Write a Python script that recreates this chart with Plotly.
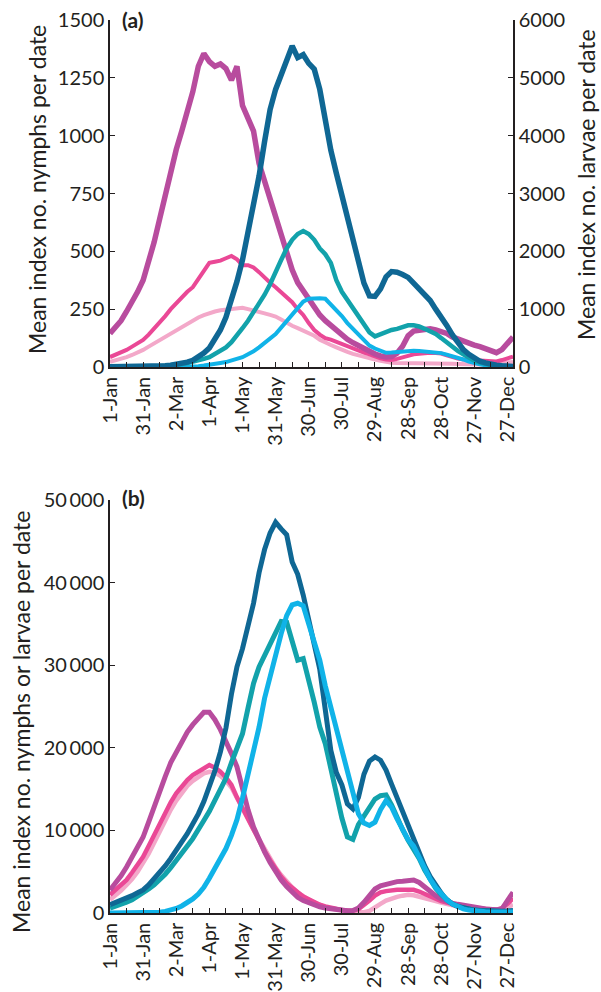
import plotly.graph_objects as go

# Day of year (0 = 1 Jan), sampled every 5 days
days = list(range(0, 366, 5))

tick_days = [0, 30, 60, 90, 120, 150, 180, 210, 240, 270, 300, 330, 360]
tick_labels = ["1-Jan", "31-Jan", "2-Mar", "1-Apr", "1-May", "31-May", "30-Jun",
               "30-Jul", "29-Aug", "28-Sep", "28-Oct", "27-Nov", "27-Dec"]
minor_days = [15, 45, 75, 105, 135, 165, 195, 225, 255, 285, 315, 345]

# ---- Panel (a): nymphs (left axis) ----
nymph_a_magenta = [
    145, 170, 200, 240, 280, 325, 375, 450, 540, 640,
    740, 850, 940, 1020, 1100, 1190, 1300, 1355, 1320, 1300,
    1310, 1290, 1240, 1300, 1130, 1070, 1020, 880, 800, 720,
    650, 580, 480, 420, 365, 330, 290, 260, 225, 200,
    180, 155, 135, 120, 105, 92, 80, 68, 56, 48,
    43, 45, 60, 90, 135, 155, 160, 160, 165, 160,
    155, 145, 130, 120, 112, 105, 95, 88, 80, 70,
    62, 75, 100, 130]
nymph_a_pink = [
    43, 52, 62, 74, 88, 102, 117, 140, 165, 191,
    220, 250, 277, 300, 325, 345, 380, 420, 450, 455,
    460, 470, 480, 465, 440, 440, 430, 410, 385, 364,
    345, 325, 305, 280, 250, 225, 190, 160, 140, 125,
    118, 108, 100, 90, 80, 70, 62, 55, 45, 38,
    32, 30, 35, 40, 48, 55, 58, 60, 62, 60,
    58, 50, 42, 36, 32, 30, 28, 26, 25, 24,
    24, 30, 38, 45]
nymph_a_light = [
    22, 28, 35, 43, 52, 62, 74, 88, 102, 117,
    132, 146, 160, 175, 190, 204, 214, 224, 234, 240,
    245, 248, 252, 256, 256, 250, 245, 238, 232, 225,
    218, 205, 190, 178, 168, 158, 148, 135, 118, 105,
    95, 85, 74, 65, 57, 50, 44, 38, 32, 27,
    22, 18, 17, 17, 17, 17, 18, 18, 18, 17,
    16, 15, 14, 13, 12, 12, 11, 10, 10, 10,
    12, 15, 18, 22]

# ---- Panel (a): larvae (right axis) ----
larva_a_dark = [
    5, 5, 5, 5, 5, 8, 8, 10, 12, 15,
    20, 30, 45, 60, 85, 115, 170, 240, 330, 470,
    640, 860, 1150, 1480, 1850, 2300, 2800, 3300, 3900, 4450,
    4800, 5050, 5250, 5550, 5350, 5400, 5250, 5150, 4800, 4250,
    3750, 3350, 2950, 2550, 2150, 1800, 1450, 1230, 1220, 1350,
    1560, 1650, 1640, 1600, 1550, 1450, 1350, 1280, 1150, 1000,
    870, 720, 560, 420, 300, 220, 150, 100, 70, 45,
    30, 20, 12, 8]
larva_a_teal = [
    0, 0, 0, 0, 2, 3, 5, 7, 10, 15,
    20, 25, 35, 50, 70, 90, 110, 140, 170, 220,
    280, 340, 430, 540, 670, 800, 940, 1080, 1250, 1430,
    1620, 1850, 2050, 2200, 2300, 2350, 2300, 2200, 2050, 1950,
    1800, 1500, 1300, 1160, 1000, 860, 720, 600, 530, 570,
    610, 640, 660, 690, 720, 720, 700, 660, 620, 570,
    500, 420, 350, 280, 220, 160, 110, 75, 50, 35,
    25, 20, 15, 12]
larva_a_light = [
    0, 0, 0, 0, 0, 0, 0, 0, 0, 0,
    0, 0, 2, 3, 5, 10, 15, 25, 35, 50,
    70, 85, 110, 140, 170, 220, 270, 340, 410, 490,
    570, 680, 790, 900, 1020, 1130, 1180, 1190, 1190, 1180,
    1080, 990, 880, 760, 660, 560, 450, 370, 320, 280,
    245, 250, 260, 270, 280, 280, 275, 270, 265, 255,
    240, 215, 190, 160, 130, 95, 65, 45, 30, 20,
    15, 10, 8, 6]

# ---- Panel (b): nymphs and larvae on one axis ----
b_magenta = [
    2780, 3600, 4500, 5570, 6700, 7900, 9200, 11000, 12900, 14900,
    16500, 18200, 19500, 20800, 21900, 22800, 23600, 24300, 24300, 23400,
    22200, 20900, 19300, 17700, 14800, 12500, 10400, 8800, 7400, 6100,
    5000, 4000, 3200, 2500, 1900, 1500, 1200, 950, 750, 600,
    500, 400, 320, 260, 300, 600, 1300, 2200, 2900, 3300,
    3500, 3700, 3800, 3850, 3950, 4000, 3700, 3100, 2600, 2100,
    1700, 1400, 1200, 1050, 900, 800, 700, 600, 500, 430,
    380, 500, 1400, 2500]
b_pink = [
    2200, 2750, 3300, 4000, 4900, 5800, 6800, 8100, 9500, 10900,
    12200, 13400, 14500, 15400, 16100, 16700, 17100, 17500, 17900, 17600,
    17100, 16400, 15500, 14000, 12700, 11200, 9900, 8700, 7500, 6400,
    5300, 4400, 3600, 3000, 2500, 2000, 1650, 1300, 1000, 800,
    620, 480, 380, 300, 280, 450, 900, 1500, 2100, 2500,
    2650, 2750, 2800, 2800, 2850, 2800, 2600, 2300, 2000, 1700,
    1450, 1250, 1050, 900, 780, 680, 600, 520, 460, 420,
    400, 600, 1100, 1800]
b_light_pink = [
    1600, 2100, 2700, 3400, 4100, 5000, 6000, 7200, 8500, 9900,
    11200, 12500, 13600, 14600, 15400, 16000, 16500, 16900, 17100, 17000,
    16600, 16000, 15200, 14000, 12800, 11400, 10100, 8900, 7700, 6600,
    5500, 4600, 3800, 3100, 2500, 2000, 1600, 1250, 950, 720,
    550, 420, 320, 230, 150, 100, 100, 250, 600, 1100,
    1500, 1750, 1950, 2100, 2200, 2150, 2000, 1850, 1650, 1450,
    1250, 1050, 900, 780, 680, 600, 530, 470, 420, 380,
    360, 450, 700, 1000]
b_dark = [
    1000, 1250, 1500, 1800, 2100, 2450, 2800, 3400, 4100, 4800,
    5700, 6600, 7500, 8600, 9600, 10700, 12000, 13500, 15200, 17200,
    19500, 22400, 26500, 29800, 32000, 34500, 37500, 41200, 44000, 46000,
    47300, 46500, 45800, 42500, 41000, 38500, 35500, 32700, 29500, 24600,
    19700, 17000, 15500, 13200, 12600, 14000, 16800, 18400, 18900, 18500,
    17300, 15600, 13900, 12200, 10400, 8800, 7200, 5700, 4400, 3300,
    2400, 1600, 1100, 800, 600, 450, 350, 300, 250, 220,
    200, 200, 250, 300]
b_teal = [
    600, 800, 1000, 1300, 1600, 2000, 2400, 2900, 3400, 4000,
    4700, 5500, 6300, 7200, 8100, 9000, 10000, 11200, 12300, 13600,
    14900, 16300, 18200, 19900, 21700, 24800, 27800, 29800, 31200, 32800,
    34200, 35300, 35200, 33000, 30600, 30800, 28300, 25500, 22500, 20500,
    17500, 14300, 11500, 9200, 8900, 10700, 11800, 12800, 13800, 14200,
    14300, 13100, 11500, 10100, 8800, 7700, 6600, 5200, 4000, 3000,
    2200, 1600, 1100, 800, 600, 450, 350, 300, 250, 200,
    180, 180, 200, 250]
b_light_blue = [
    0, 0, 0, 0, 0, 0, 0, 20, 50, 100,
    200, 350, 550, 850, 1200, 1700, 2300, 3100, 4200, 5400,
    6600, 7800, 9400, 11300, 13900, 16800, 19500, 22500, 26000, 28800,
    31500, 33800, 36000, 37300, 37500, 37200, 35000, 32800, 30600, 27500,
    24900, 22600, 20000, 17300, 14600, 12000, 10900, 10600, 11000, 12500,
    13600, 12800, 11400, 10000, 8900, 8100, 6800, 5300, 4100, 3100,
    2300, 1600, 1100, 750, 500, 350, 250, 200, 150, 120,
    100, 100, 100, 120]

b_ticks = [0, 10000, 20000, 30000, 40000, 50000]
b_tick_text = ["0", "10\u2009000", "20\u2009000", "30\u2009000", "40\u2009000", "50\u2009000"]

MAGENTA = "#B84C9E"
PINK = "#EA4896"
LIGHT_PINK = "#F3A8C9"
DARK_BLUE = "#0F6794"
TEAL = "#12A2AB"
LIGHT_BLUE = "#10B3E8"
INK = "#231F20"
FONT = "Lato"

fig = go.Figure()


def add(y, color, width, xa, ya):
    fig.add_trace(go.Scatter(x=days, y=y, mode="lines", xaxis=xa, yaxis=ya,
                             line=dict(color=color, width=width),
                             showlegend=False, hoverinfo="skip"))


# panel (a)
add(nymph_a_light, LIGHT_PINK, 4, "x", "y")
add(nymph_a_pink, PINK, 4, "x", "y")
add(nymph_a_magenta, MAGENTA, 5.5, "x", "y")
add(larva_a_light, LIGHT_BLUE, 4, "x", "y2")
add(larva_a_teal, TEAL, 4.5, "x", "y2")
add(larva_a_dark, DARK_BLUE, 5.5, "x", "y2")

# panel (b)
add(b_light_pink, LIGHT_PINK, 4.5, "x2", "y3")
add(b_pink, PINK, 4.5, "x2", "y3")
add(b_magenta, MAGENTA, 5, "x2", "y3")
add(b_teal, TEAL, 5, "x2", "y3")
add(b_dark, DARK_BLUE, 5, "x2", "y3")
add(b_light_blue, LIGHT_BLUE, 5, "x2", "y3")

W, H = 601, 992
x_dom = [110 / W, 513 / W]
a_dom = [(H - 367) / H, (H - 20) / H]
b_dom = [(H - 913) / H, (H - 500) / H]

tick_font = dict(family=FONT, size=20, color=INK)
common_x = dict(range=[0, 365], tickvals=tick_days, ticktext=tick_labels,
                tickangle=-90, ticks="inside", ticklen=5, tickwidth=1.3,
                tickcolor=INK, showline=True, linecolor=INK, linewidth=1.5,
                showgrid=False, zeroline=False, tickfont=tick_font,
                automargin=False,
                minor=dict(tickvals=minor_days, ticks="inside", ticklen=5,
                           tickwidth=1.3, tickcolor=INK))
common_y = dict(ticks="inside", ticklen=5, tickwidth=1.3, tickcolor=INK,
                showline=True, linecolor=INK, linewidth=1.5, showgrid=False,
                zeroline=False, tickfont=tick_font, automargin=False)

fig.update_layout(
    width=W, height=H,
    margin=dict(l=0, r=0, t=0, b=0),
    paper_bgcolor="white", plot_bgcolor="white",
    xaxis=dict(domain=x_dom, anchor="y", **common_x),
    yaxis=dict(domain=a_dom, anchor="x", range=[0, 1500],
               tickvals=[0, 250, 500, 750, 1000, 1250, 1500], **common_y),
    yaxis2=dict(overlaying="y", side="right", anchor="x", range=[0, 6000],
                tickvals=[0, 1000, 2000, 3000, 4000, 5000, 6000], **common_y),
    xaxis2=dict(domain=x_dom, anchor="y3", **common_x),
    yaxis3=dict(domain=b_dom, anchor="x2", range=[0, 50000],
                tickvals=b_ticks, ticktext=b_tick_text, **common_y),
)

title_font = dict(family=FONT, size=23, color=INK)
fig.add_annotation(text="Mean index no. nymphs per date", xref="paper", yref="paper",
                   x=37 / W, y=(H - 190) / H, textangle=-90, showarrow=False,
                   font=title_font, xanchor="center", yanchor="middle")
fig.add_annotation(text="Mean index no. larvae per date", xref="paper", yref="paper",
                   x=586 / W, y=(H - 185) / H, textangle=-90, showarrow=False,
                   font=title_font, xanchor="center", yanchor="middle")
fig.add_annotation(text="Mean index no. nymphs or larvae per date", xref="paper",
                   yref="paper", x=21 / W, y=(H - 722) / H, textangle=-90,
                   showarrow=False, font=title_font, xanchor="center",
                   yanchor="middle")
fig.add_annotation(text="<b>(a)</b>", xref="paper", yref="paper", x=120 / W,
                   y=(H - 20) / H, showarrow=False, xanchor="left",
                   yanchor="middle", font=dict(family=FONT, size=21, color=INK))
fig.add_annotation(text="<b>(b)</b>", xref="paper", yref="paper", x=120 / W,
                   y=(H - 497) / H, showarrow=False, xanchor="left",
                   yanchor="middle", font=dict(family=FONT, size=21, color=INK))

fig.write_html("out.html")
